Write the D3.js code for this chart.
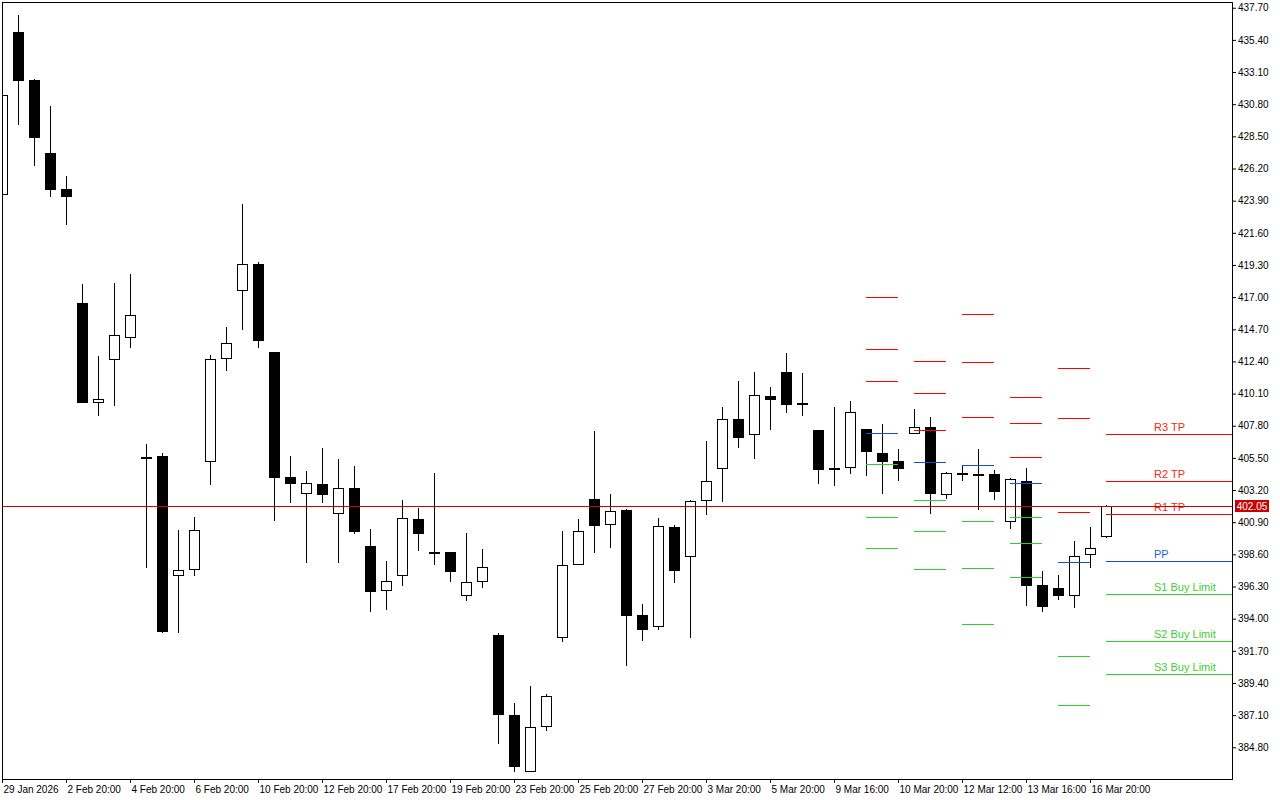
<!DOCTYPE html>
<html>
<head>
<meta charset="utf-8">
<script src="https://cdn.jsdelivr.net/npm/d3@7/dist/d3.min.js"></script>
<style>
html, body { margin: 0; padding: 0; background: #fff; }
svg { display: block; font-family: "Liberation Sans", Arial, sans-serif; }
</style>
</head>
<body>
<div id="chart"></div>
<script>
// candles, oldest first
const openP  = [424.28,435.94,432.53,427.31,424.73,416.56,409.45,412.48,414.10,405.58,
                405.63,397.03,397.46,405.18,412.55,417.41,419.37,413.07,404.13,402.89,
                403.63,401.46,403.34,399.20,395.96,397.03,401.13,398.80,398.77,395.60,
                396.60,392.83,387.11,383.01,386.23,392.59,397.82,402.56,400.68,401.79,
                394.26,393.38,400.55,398.39,402.39,404.68,408.26,407.11,409.92,411.64,
                409.40,407.49,404.76,404.76,407.56,405.85,405.28,407.23,407.71,402.82,
                404.40,404.33,404.35,400.89,403.82,396.38,396.19,395.60,398.53,399.82];
const highP  = [431.50,437.18,432.58,430.67,425.66,417.94,412.79,418.01,418.65,406.49,
                405.85,400.34,401.27,412.86,414.86,423.66,419.49,413.10,405.63,404.56,
                406.20,405.42,404.92,400.41,398.12,402.49,401.91,404.42,398.80,400.13,
                398.98,392.97,387.97,389.18,388.61,400.29,401.15,407.42,402.91,401.82,
                395.05,401.20,400.70,402.49,406.71,409.14,411.00,411.64,410.57,413.00,
                411.57,407.52,409.14,409.57,407.58,407.92,406.13,409.00,408.42,404.49,
                404.97,406.13,404.63,404.04,404.78,397.41,397.12,399.55,400.55,402.10];
const lowP   = [424.20,429.31,426.40,424.18,422.18,409.40,408.52,409.23,413.38,397.64,
                393.00,393.00,397.07,403.58,411.73,414.67,413.38,401.00,402.29,398.00,
                402.29,398.00,400.07,394.50,394.64,396.36,398.86,397.86,396.64,395.28,
                396.21,385.05,383.05,383.01,385.98,392.35,397.82,398.72,399.07,390.63,
                392.42,393.21,396.57,392.64,401.43,402.36,406.23,405.44,407.51,408.73,
                408.52,403.65,403.51,404.37,404.22,402.94,403.87,407.23,401.51,402.56,
                403.87,401.79,402.51,400.43,394.93,394.50,395.35,394.78,397.64,399.80];
const closeP = [431.43,432.48,428.40,424.66,424.18,409.42,409.69,414.27,415.70,405.52,
                393.07,397.46,400.32,412.55,413.69,419.35,413.88,404.06,403.65,403.68,
                402.86,403.32,400.22,395.93,396.67,401.18,400.07,398.74,397.36,396.60,
                397.69,387.09,383.41,386.25,388.47,397.84,400.27,400.65,401.70,394.21,
                393.21,400.63,397.43,402.39,403.82,408.26,406.94,409.98,409.66,409.30,
                409.34,404.65,404.70,408.76,405.94,405.23,404.73,407.71,402.94,404.40,
                404.34,404.27,403.08,403.97,396.36,394.85,395.64,398.46,399.03,402.05];

// time axis labels, every 4th bar
const dateLabels = ["29 Jan 2026","2 Feb 20:00","4 Feb 20:00","6 Feb 20:00","10 Feb 20:00",
  "12 Feb 20:00","17 Feb 20:00","19 Feb 20:00","23 Feb 20:00","25 Feb 20:00","27 Feb 20:00",
  "3 Mar 20:00","5 Mar 20:00","9 Mar 16:00","10 Mar 20:00","12 Mar 12:00","13 Mar 16:00","16 Mar 20:00"];
const dateTickIdx = d3.range(0, 70, 4);

const priceTicks = [384.80,387.10,389.40,391.70,394.00,396.30,398.60,400.90,403.20,405.50,
  407.80,410.10,412.40,414.70,417.00,419.30,421.60,423.90,426.20,428.50,430.80,433.10,435.40,437.70];

// pivot levels per period (start bar index)
const pivotStart = [54, 57, 60, 63, 66, 69];
const r3 = [416.98, 412.41, 415.77, 409.83, 411.91, 407.21];
const r2 = [413.27, 410.12, 412.34, 407.97, 408.33, 403.85];
const r1 = [410.98, 407.47, 408.40, 405.54, 401.61, 401.48];
const pp = [407.26, 405.18, 404.97, 403.68, 398.03, 398.10];
const s1 = [405.04, 402.46, 400.96, 401.25, 391.31, 395.76];
const s2 = [401.25, 400.25, 397.60, 399.39, 387.80, 392.40];
const s3 = [399.03, 397.53, 393.60, 396.96, 381.08, 390.04];
const levelNames = ["R3 TP", "R2 TP", "R1 TP", "PP", "S1 Buy Limit", "S2 Buy Limit", "S3 Buy Limit"];

const bid = 402.05;

const W = 1280, H = 800;
const pLeft = 2, pRight = 1232, pTop = 2, pBottom = 779;
const red = "#ff0000", blue = "#1450d2", green = "#32cd32";

const svg = d3.select("#chart").append("svg").attr("width", W).attr("height", H);

const x = d3.scaleLinear().domain([0, 69]).range([2, 1106]);
const y = d3.scaleLinear().domain([382.53, 438.11]).range([pBottom, pTop]);

svg.append("clipPath").attr("id", "plot")
  .append("rect").attr("x", pLeft + 1).attr("y", pTop + 1)
  .attr("width", pRight - pLeft - 1).attr("height", pBottom - pTop - 1);

const plot = svg.append("g").attr("clip-path", "url(#plot)");

const candles = openP.map((o, i) => ({ i, o, h: highP[i], l: lowP[i], c: closeP[i] }));

const g = plot.selectAll("g.candle").data(candles).enter().append("g").attr("class", "candle");
g.append("line")
  .attr("x1", d => x(d.i) + 0.5).attr("x2", d => x(d.i) + 0.5)
  .attr("y1", d => Math.round(y(d.h))).attr("y2", d => Math.round(y(d.l)))
  .attr("stroke", "#000").attr("stroke-width", 1);
g.each(function (d) {
  const yt = Math.round(y(Math.max(d.o, d.c)));
  const yb = Math.round(y(Math.min(d.o, d.c)));
  const sel = d3.select(this);
  if (d.c > d.o) {
    sel.append("rect")
      .attr("x", x(d.i) - 4.5).attr("width", 10)
      .attr("y", yt + 0.5).attr("height", Math.max(yb - yt - 1, 1))
      .attr("fill", "#fff").attr("stroke", "#000").attr("stroke-width", 1);
  } else {
    sel.append("rect")
      .attr("x", x(d.i) - 5).attr("width", 11)
      .attr("y", yt).attr("height", Math.max(yb - yt, 2))
      .attr("fill", "#000");
  }
});

// pivot segments
const levelSets = [[r3, red], [r2, red], [r1, red], [pp, blue], [s1, green], [s2, green], [s3, green]];
levelSets.forEach(([vals, col], li) => {
  pivotStart.forEach((s, k) => {
    const last = k === pivotStart.length - 1;
    const yy = Math.round(y(vals[k])) + 0.5;
    plot.append("line")
      .attr("x1", x(s)).attr("x2", last ? pRight : x(s + 2))
      .attr("y1", yy).attr("y2", yy)
      .attr("stroke", col).attr("stroke-width", 1);
    if (last) {
      plot.append("text")
        .attr("x", 1154).attr("y", yy - 3.5)
        .attr("font-size", 11)
        .attr("fill", col === green ? "#44cc33" : col === blue ? "#1a5ee0" : "#f02a10")
        .text(levelNames[li]);
    }
  });
});

// bid line
const yBid = Math.round(y(bid)) + 0.5;
plot.append("line").attr("x1", pLeft).attr("x2", pRight).attr("y1", yBid).attr("y2", yBid)
  .attr("stroke", "#d00000").attr("stroke-width", 1);

// frame
svg.append("rect").attr("x", pLeft + 0.5).attr("y", pTop + 0.5)
  .attr("width", pRight - pLeft).attr("height", pBottom - pTop)
  .attr("fill", "none").attr("stroke", "#000");

// price axis
const yAxis = d3.axisRight(y).tickValues(priceTicks).tickSize(4).tickSizeOuter(0).tickPadding(2)
  .tickFormat(d3.format(".2f"));
svg.append("g").attr("transform", `translate(${pRight},0)`).call(yAxis)
  .call(a => a.selectAll("text").attr("font-size", 10).attr("fill", "#000").attr("font-family", null))
  .call(a => a.selectAll("line, path").attr("stroke", "#000"));

// time axis
const xAxis = d3.axisBottom(x).tickValues(dateTickIdx).tickSize(4).tickPadding(3)
  .tickFormat((d, i) => dateLabels[i]);
svg.append("g").attr("transform", `translate(0,${pBottom})`).call(xAxis)
  .call(a => a.select(".domain").remove())
  .call(a => a.selectAll("text").attr("font-size", 10).attr("fill", "#000")
    .attr("text-anchor", "start").attr("dx", 1).attr("font-family", null))
  .call(a => a.selectAll("line").attr("stroke", "#000"));

// bid price tag
svg.append("rect").attr("x", pRight + 3).attr("y", yBid - 6.5).attr("width", 34).attr("height", 12)
  .attr("fill", "#c80000");
svg.append("text").attr("x", pRight + 20).attr("y", yBid + 3.5).attr("text-anchor", "middle")
  .attr("font-size", 10).attr("fill", "#fff").text(d3.format(".2f")(bid));
</script>
</body>
</html>
